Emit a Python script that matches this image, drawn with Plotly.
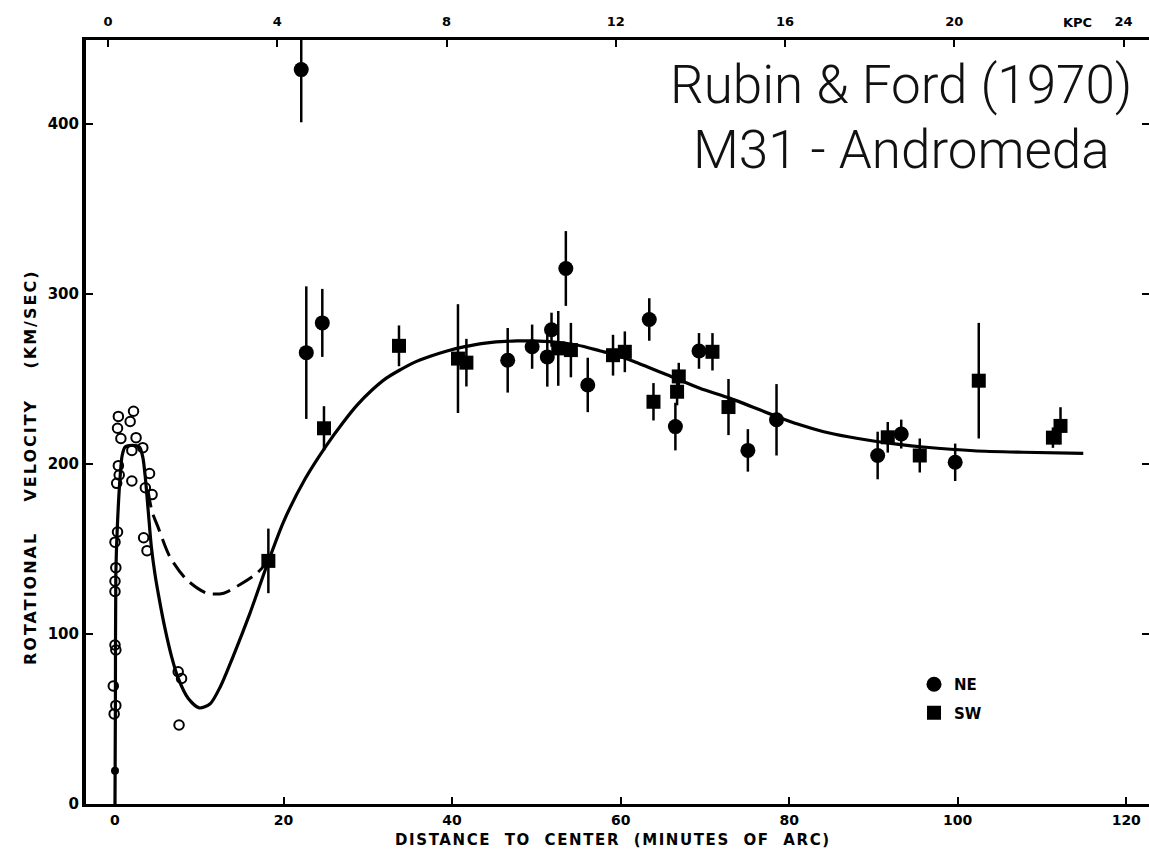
import plotly.graph_objects as go

# ---------------- data ----------------
# NE points (filled circles): distance (arcmin), velocity (km/s), error (km/s)
ne_x = [22.1, 22.7, 24.6, 46.6, 49.5, 51.3, 51.8, 53.5, 56.1, 63.4, 66.5, 69.3, 75.1, 78.5, 90.5, 93.3, 99.7]
ne_v = [432, 265.5, 283, 261, 269, 263, 279, 315, 246.5, 285, 222, 266.5, 208, 226, 205, 217.6, 201]
ne_e = [31, 39, 20, 19, 13, 17.5, 10, 22, 16, 12.5, 14, 10.5, 12.5, 21, 14, 8.5, 11]

# SW points (filled squares)
sw_x = [18.2, 24.8, 33.7, 40.7, 41.7, 52.6, 54.1, 59.1, 60.5, 63.9, 66.7, 66.9, 70.9, 72.8, 91.7, 95.5, 102.5, 111.3, 112.2]
sw_v = [143, 221, 269.5, 262, 259.6, 268, 267, 264, 266, 236.6, 242.5, 251.5, 266, 233.5, 215.7, 205, 249, 215.5, 222.4]
sw_e = [19, 13, 12, 32, 14, 22, 16, 12, 12, 11, 8, 8, 11, 16.5, 9, 10, 34, 6, 11]

# inner (nucleus) points: open circles
in_x = [0.4, 2.2, 0.3, 1.8, 0.7, 2.5, 2.0, 3.3, 0.4, 0.5, 0.2, 2.0, 4.1, 4.4, 3.6,
        0.3, 0.0, 3.4, 3.8, 0.1, 0.0, 0.0, 0.0, 0.1, -0.2, 0.1, -0.1, 7.5, 7.9, 7.6]
in_v = [228, 231, 221, 225, 215, 215.5, 208, 209.6, 199, 193.5, 188.6, 190, 194.4, 182, 186,
        160, 154, 156.6, 149, 139, 131, 125, 93.5, 90.6, 69.4, 58, 53, 77.8, 73.8, 46.5]

# small filled dot at the centre
dot_x = [0.0]
dot_v = [19.6]

# fitted rotation curve (solid)
fit_x = [0, 0.05, 0.1, 0.27, 0.6, 0.85, 1.2, 2.0, 2.9, 3.3, 3.6, 3.95, 4.3, 4.75, 5.2, 5.9, 6.7,
         7.5, 8.7, 10.0, 11.3, 12.5, 14.0, 16.0, 18.0, 20.0, 22.6, 25.1, 27.0, 28.7, 30.5,
         32.2, 33.7, 35.4, 37.5, 39.4, 41.5, 43.7, 47.7, 51.6, 54.8, 57.6, 59.5, 61.5, 63.5,
         65.5, 69.4, 73.0, 78.5, 81.0, 84.1, 87.0, 90.0, 93.0, 95.9, 101.9, 107.8, 114.9]
fit_v = [0, 60, 135, 162, 192, 205, 210, 211, 210, 204, 192, 172, 152, 135, 122, 104, 87,
         74, 62, 56.5, 59, 69, 86.6, 112, 140, 166, 191.6, 211, 224, 234.5, 243.5,
         250.5, 255, 259.5, 263.5, 266.5, 269, 271, 272.4, 272, 270, 266.5, 264, 260.5, 256.5,
         252.5, 244.5, 238.6, 228, 223.5, 219, 216, 213.5, 211.5, 210, 207.8, 206.9, 206.2]

# alternative curve (dashed)
alt_x = [3.9, 4.4, 5.1, 6.5, 8.5, 10.9, 12.9, 14.8, 16.8, 18.2]
alt_v = [185, 172, 163, 145.5, 132, 124, 124, 129, 135.6, 143]

# axis ticks
x_ticks = [0, 20, 40, 60, 80, 100, 120]
y_ticks = [0, 100, 200, 300, 400]
kpc_ticks = [0, 4, 8, 12, 16, 20, 24]

# ---------------- figure ----------------
BLK = "black"
TICKFONT = dict(family="DejaVu Sans", size=14, color=BLK, weight="bold")

# plot-area geometry (pixels) used for paper-coordinate placement
L, R, T, B, W, H = 86, 0, 40, 52, 1149, 856
PW, PH = W - L - R, H - T - B


def px(xp):
    return (xp - L) / PW


def py(yp):
    return (H - B - yp) / PH


fig = go.Figure()

fig.add_trace(go.Scatter(x=alt_x, y=alt_v, mode="lines",
                         line=dict(color=BLK, width=3, dash="18px,8px", shape="spline", smoothing=0.8),
                         showlegend=False, hoverinfo="skip"))
fig.add_trace(go.Scatter(x=fit_x, y=fit_v, mode="lines",
                         line=dict(color=BLK, width=3.2, shape="spline", smoothing=0.75),
                         showlegend=False, hoverinfo="skip"))
fig.add_trace(go.Scatter(x=in_x, y=in_v, mode="markers",
                         marker=dict(symbol="circle-open", size=9.5, color=BLK, line=dict(width=2, color=BLK)),
                         showlegend=False))
fig.add_trace(go.Scatter(x=dot_x, y=dot_v, mode="markers", marker=dict(symbol="circle", size=8, color=BLK),
                         showlegend=False))
fig.add_trace(go.Scatter(x=ne_x, y=ne_v, mode="markers", name="NE", legendgroup="ne",
                         marker=dict(symbol="circle", size=15, color=BLK),
                         error_y=dict(type="data", array=ne_e, thickness=2.5, width=0, color=BLK)))
fig.add_trace(go.Scatter(x=sw_x, y=sw_v, mode="markers", name="SW", legendgroup="sw",
                         marker=dict(symbol="square", size=14, color=BLK),
                         error_y=dict(type="data", array=sw_e, thickness=2.5, width=0, color=BLK)))
# empty trace so that the kpc (top) and right-hand axes are drawn
fig.add_trace(go.Scatter(x=[None], y=[None], xaxis="x2", yaxis="y2", mode="markers",
                         showlegend=False, hoverinfo="skip"))

fig.update_layout(
    width=W, height=H, autosize=False,
    margin=dict(l=L, r=R, t=T, b=B),
    paper_bgcolor="white", plot_bgcolor="white",
    font=dict(family="DejaVu Sans", color=BLK),
    xaxis=dict(range=[-3.44, 122.7], tickvals=x_ticks, ticks="inside", ticklen=7, tickwidth=2,
               tickcolor=BLK, showline=True, linewidth=3, linecolor=BLK, showgrid=False,
               zeroline=False, tickfont=TICKFONT, ticklabelstandoff=1),
    xaxis2=dict(range=[-0.52, 24.6], tickvals=kpc_ticks, ticks="inside", ticklen=7, tickwidth=2,
                tickcolor=BLK, showline=True, linewidth=3, linecolor=BLK, showgrid=False,
                zeroline=False, overlaying="x", side="top", anchor="y2",
                tickfont=dict(family="DejaVu Sans", size=13, color=BLK, weight="bold"),
                ticklabelstandoff=6),
    yaxis=dict(range=[0, 449.4], tickvals=y_ticks, ticks="inside", ticklen=7, tickwidth=2,
               tickcolor=BLK, showline=True, linewidth=4, linecolor=BLK, showgrid=False,
               zeroline=False, tickfont=dict(family="DejaVu Sans", size=15, color=BLK, weight="bold"),
               ticklabelstandoff=0),
    yaxis2=dict(range=[0, 449.4], tickvals=y_ticks, ticks="inside", ticklen=7, tickwidth=2,
                tickcolor=BLK, showline=False, showgrid=False, zeroline=False,
                showticklabels=False, overlaying="y", side="right", anchor="x2"),
    legend=dict(x=px(914), y=py(668), xanchor="left", yanchor="top", bgcolor="rgba(0,0,0,0)",
                font=dict(family="DejaVu Sans", size=15, color=BLK, weight="bold"),
                tracegroupgap=6, itemwidth=30),
    showlegend=True,
)

fig.add_annotation(xref="paper", yref="paper", x=px(613), y=py(840), xanchor="center", yanchor="middle",
                   showarrow=False,
                   text='<span style="letter-spacing:1.6px">DISTANCE  TO  CENTER  (MINUTES  OF  ARC)</span>',
                   font=dict(family="DejaVu Sans", size=15, color=BLK, weight="bold"))
fig.add_annotation(xref="paper", yref="paper", x=px(30), y=py(468), xanchor="center", yanchor="middle",
                   textangle=-90, showarrow=False,
                   text='<span style="letter-spacing:2px">ROTATIONAL    VELOCITY    (KM/SEC)</span>',
                   font=dict(family="DejaVu Sans", size=16, color=BLK, weight="bold"))
fig.add_annotation(xref="paper", yref="paper", x=px(1077), y=py(23), xanchor="center", yanchor="middle",
                   showarrow=False, text="KPC",
                   font=dict(family="DejaVu Sans", size=13, color=BLK, weight="bold"))
fig.add_annotation(xref="paper", yref="paper", x=px(901), y=py(85), xanchor="center", yanchor="middle",
                   showarrow=False, text="Rubin & Ford (1970)",
                   font=dict(family="Roboto", size=53, color="#111111", weight=300))
fig.add_annotation(xref="paper", yref="paper", x=px(901), y=py(150), xanchor="center", yanchor="middle",
                   showarrow=False, text="M31 - Andromeda",
                   font=dict(family="Roboto", size=53, color="#111111", weight=300))

fig.write_html("out.html")
